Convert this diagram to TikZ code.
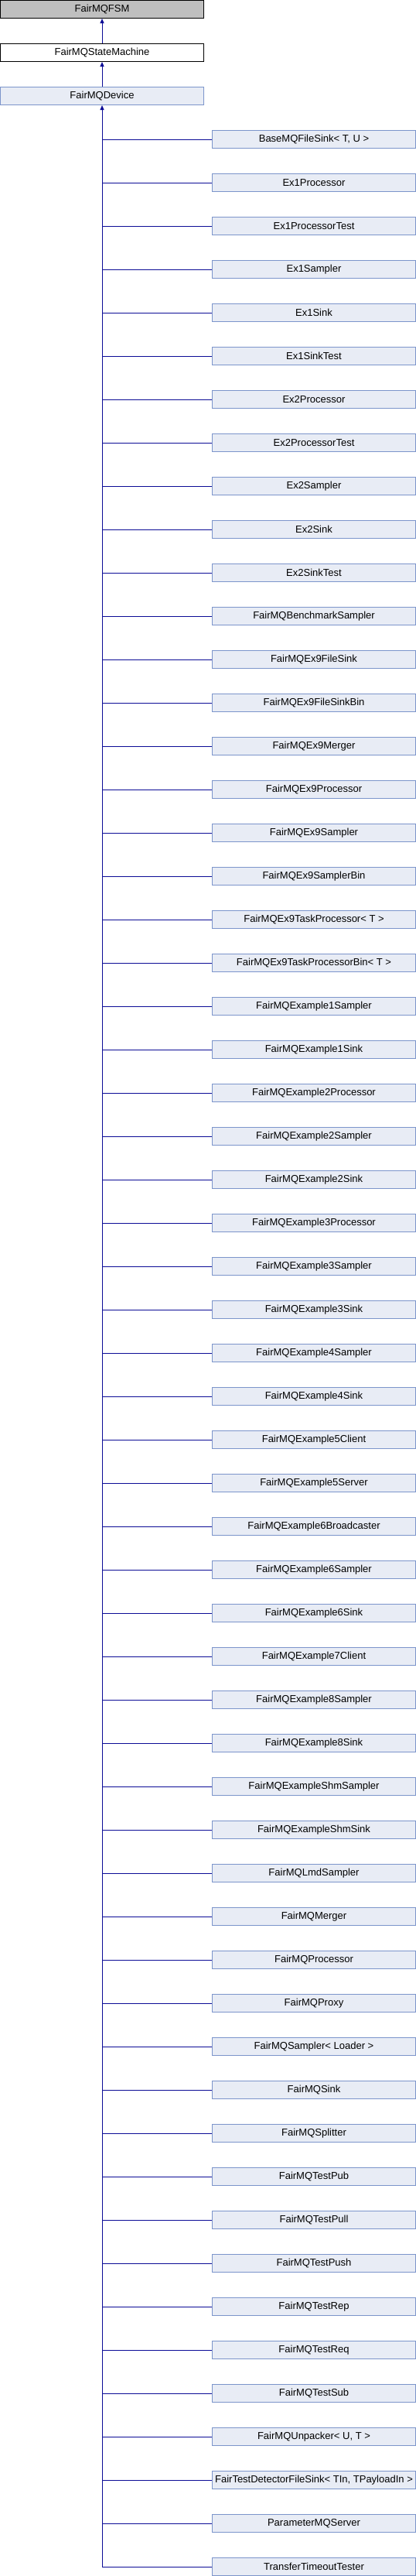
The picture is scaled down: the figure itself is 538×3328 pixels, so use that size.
\documentclass[tikz,border=0pt]{standalone}
\usepackage{fontspec}
\setmainfont{Liberation Sans}
\usetikzlibrary{arrows.meta}
\definecolor{edgeblue}{RGB}{12,12,150}
\definecolor{boxfill}{RGB}{232,236,245}
\definecolor{boxline}{RGB}{124,149,203}
\definecolor{rootfill}{RGB}{191,191,191}
\tikzset{
  x=1pt,y=1pt,
  cls/.style={draw=boxline,fill=boxfill,line width=1pt,minimum width=263pt,minimum height=23pt,inner sep=0pt,
    font=\fontsize{13}{15}\selectfont,text=black},
  rootbox/.style={cls,draw=black,fill=rootfill},
  midbox/.style={cls,draw=black,fill=white},
  edge/.style={draw=edgeblue,line width=1pt},
  inh/.style={edge,-{Triangle[width=5pt,length=6pt]}},
}
\begin{document}
\begin{tikzpicture}
\useasboundingbox (0,0) rectangle (538,-3328);
\node[rootbox] (fsm) at (132,-12) {FairMQFSM};
\node[midbox] (sm) at (132,-68) {FairMQStateMachine};
\node[cls] (dev) at (132,-124) {FairMQDevice};
\draw[inh] (sm.north) -- (fsm.south);
\draw[inh] (dev.north) -- (sm.south);
\foreach \name [count=\k] in {
  {BaseMQFileSink< T, U >},
  Ex1Processor,
  Ex1ProcessorTest,
  Ex1Sampler,
  Ex1Sink,
  Ex1SinkTest,
  Ex2Processor,
  Ex2ProcessorTest,
  Ex2Sampler,
  Ex2Sink,
  Ex2SinkTest,
  FairMQBenchmarkSampler,
  FairMQEx9FileSink,
  FairMQEx9FileSinkBin,
  FairMQEx9Merger,
  FairMQEx9Processor,
  FairMQEx9Sampler,
  FairMQEx9SamplerBin,
  {FairMQEx9TaskProcessor< T >},
  {FairMQEx9TaskProcessorBin< T >},
  FairMQExample1Sampler,
  FairMQExample1Sink,
  FairMQExample2Processor,
  FairMQExample2Sampler,
  FairMQExample2Sink,
  FairMQExample3Processor,
  FairMQExample3Sampler,
  FairMQExample3Sink,
  FairMQExample4Sampler,
  FairMQExample4Sink,
  FairMQExample5Client,
  FairMQExample5Server,
  FairMQExample6Broadcaster,
  FairMQExample6Sampler,
  FairMQExample6Sink,
  FairMQExample7Client,
  FairMQExample8Sampler,
  FairMQExample8Sink,
  FairMQExampleShmSampler,
  FairMQExampleShmSink,
  FairMQLmdSampler,
  FairMQMerger,
  FairMQProcessor,
  FairMQProxy,
  {FairMQSampler< Loader >},
  FairMQSink,
  FairMQSplitter,
  FairMQTestPub,
  FairMQTestPull,
  FairMQTestPush,
  FairMQTestRep,
  FairMQTestReq,
  FairMQTestSub,
  {FairMQUnpacker< U, T >},
  {FairTestDetectorFileSink< TIn, TPayloadIn >},
  ParameterMQServer,
  TransferTimeoutTester}
{
  \node[cls] (c\k) at (406,{-12-56*(\k+2)}) {\name};
  \draw[edge] (c\k.west) -- (c\k.west -| dev.south);
}
\coordinate (trunkend) at (c57.west -| dev.south);
\draw[inh] (trunkend) -- (dev.south);
\end{tikzpicture}
\end{document}
